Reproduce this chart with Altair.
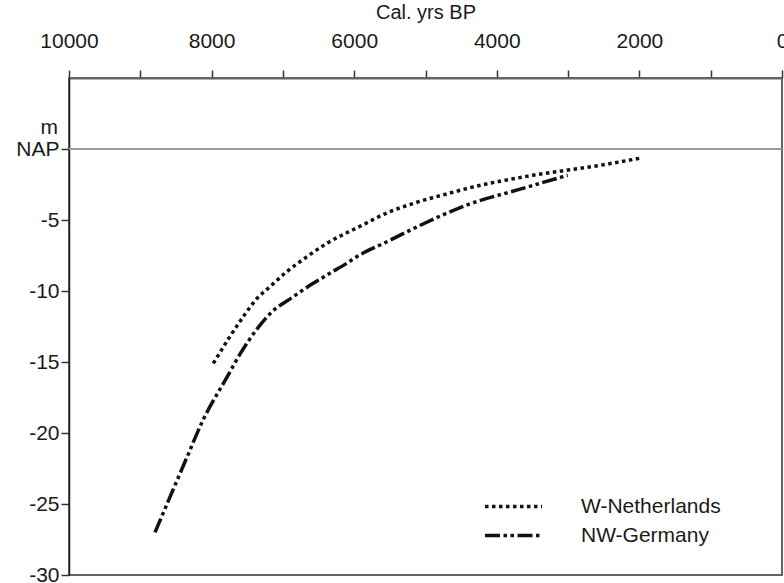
import altair as alt
import pandas as pd

# --- data ---
series_names = ["W-Netherlands", "NW-Germany"]

wn_years = [7976, 7742, 7555, 7367, 7181, 6947, 6666, 6386, 6105, 5961, 5540, 5119, 4656, 4418, 3492, 2553, 1992]
wn_depth = [-15.1, -13.2, -11.8, -10.55, -9.7, -8.65, -7.6, -6.65, -5.9, -5.55, -4.5, -3.75, -3.1, -2.78, -1.85, -1.15, -0.65]

ng_years = [8794, 8583, 8345, 8121, 7788, 7602, 7367, 7181, 6854, 6620, 6340, 6105, 5969, 5548, 5126, 4691, 4424, 3722, 3006]
ng_depth = [-27.0, -24.5, -21.7, -19.1, -16.1, -14.45, -12.7, -11.6, -10.4, -9.6, -8.75, -8.05, -7.6, -6.55, -5.5, -4.5, -3.95, -2.9, -1.85]

x_ticks = [10000, 9000, 8000, 7000, 6000, 5000, 4000, 3000, 2000, 1000, 0]
y_ticks = [-30, -25, -20, -15, -10, -5, 0]

FONT = "Liberation Sans"
TXT = "#1a1a1a"

rows = []
for y, d in zip(wn_years, wn_depth):
    rows.append({"year": y, "depth": d, "series": series_names[0]})
for y, d in zip(ng_years, ng_depth):
    rows.append({"year": y, "depth": d, "series": series_names[1]})
df = pd.DataFrame(rows)

xscale = alt.Scale(domain=[0, 10000], reverse=True, nice=False)
yscale = alt.Scale(domain=[-30, 5], nice=False)

y_axis = alt.Axis(
    values=y_ticks,
    labelExpr="datum.value == 0 ? 'NAP' : '' + datum.value",
    title=None,
    labelFont=FONT,
    labelFontSize=21,
    labelColor=TXT,
    labelPadding=2,
    tickSize=8,
    tickColor="#333333",
    tickWidth=1.5,
    domainColor="#222222",
    domainWidth=1.5,
    grid=False,
    labelFlush=False,
    labelOverlap=False,
)

zero_line = alt.Chart(pd.DataFrame({"depth": [0]})).mark_rule(
    color="#9a9a9a", strokeWidth=2
).encode(y=alt.Y("depth:Q", scale=yscale, axis=y_axis))

lines = alt.Chart(df).mark_line(
    color="#111111", strokeWidth=3.5, strokeCap="butt", interpolate="monotone"
).encode(
    x=alt.X(
        "year:Q",
        scale=xscale,
        axis=alt.Axis(
            orient="top",
            values=x_ticks,
            format="d",
            labelExpr="datum.value % 2000 == 0 ? datum.label : ''",
            title="Cal. yrs BP",
            titleFont=FONT,
            titleFontSize=20,
            titleFontWeight="normal",
            titleColor=TXT,
            titlePadding=8,
            labelFont=FONT,
            labelFontSize=21,
            labelColor=TXT,
            labelPadding=19,
            tickSize=8,
            tickColor="#333333",
            tickWidth=1.5,
            domainColor="#666666",
            domainWidth=2,
            grid=False,
            labelFlush=False,
            labelOverlap=False,
        ),
    ),
    y=alt.Y("depth:Q", scale=yscale, axis=y_axis),
    strokeDash=alt.StrokeDash(
        "series:N",
        scale=alt.Scale(domain=series_names, range=[[3.5, 3.5], [15, 3.5, 3.5, 3.5, 3.5, 3.5]]),
        legend=alt.Legend(
            orient="none",
            legendX=414,
            legendY=414,
            title=None,
            symbolType="stroke",
            symbolSize=3249,
            symbolStrokeWidth=3.5,
            symbolStrokeColor="#111111",
            labelFont=FONT,
            labelFontSize=21,
            labelColor=TXT,
            labelOffset=37,
            clipHeight=29,
            rowPadding=0,
            padding=0,
        ),
    ),
    order=alt.Order("year:Q", sort="descending"),
)

m_label = alt.Chart(pd.DataFrame({"depth": [1.05], "t": ["m"]})).mark_text(
    align="right", baseline="alphabetic", font=FONT, fontSize=21, color=TXT
).encode(
    y=alt.Y("depth:Q", scale=yscale, axis=y_axis),
    x=alt.value(-11),
    text="t:N",
)

chart = alt.layer(zero_line, lines, m_label).properties(
    width=713,
    height=497,
    autosize=alt.AutoSizeParams(type="none"),
    padding={"left": 69, "top": 78, "right": 2, "bottom": 8},
    background="white",
).configure_view(stroke="#333333", strokeWidth=1.5)

chart.save("out.html", embed_options={"renderer": "svg", "actions": False})
